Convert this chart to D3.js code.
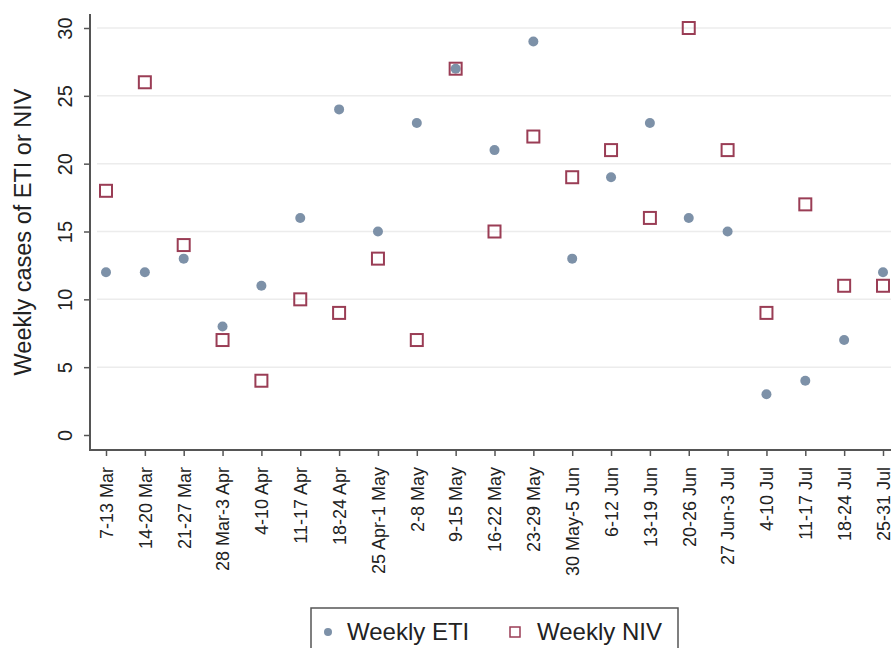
<html><head>
<script src="https://d3js.org/d3.v7.min.js"></script>
<style>
  body { margin: 0; background: #fff; }
  text { font-family: "Liberation Sans", Arial, sans-serif; fill: #222; }
</style>
</head>
<body>
<script>
  var weeks = ["7-13 Mar","14-20 Mar","21-27 Mar","28 Mar-3 Apr","4-10 Apr","11-17 Apr","18-24 Apr",
               "25 Apr-1 May","2-8 May","9-15 May","16-22 May","23-29 May","30 May-5 Jun","6-12 Jun",
               "13-19 Jun","20-26 Jun","27 Jun-3 Jul","4-10 Jul","11-17 Jul","18-24 Jul","25-31 Jul"];
  var eti = [12,12,13,8,11,16,24,15,23,27,21,29,13,19,23,16,15,3,4,7,12];
  var niv = [18,26,14,7,4,10,9,13,7,27,15,22,19,21,16,30,21,9,17,11,11];
  var yTicks = [0,5,10,15,20,25,30];

  let width = 891, height = 648;
  let svg = d3.select("body").append("svg").attr("width", width).attr("height", height);

  let left = 90, bottom = 450;
  let xScale = d3.scalePoint().domain(weeks).range([106, 883]);
  let yScale = d3.scaleLinear().domain([0, 30]).range([435, 28]);

  // gridlines
  yTicks.forEach(t => {
    if (t == 0) return;
    svg.append("line").attr("x1", 97).attr("x2", width).attr("y1", yScale(t)).attr("y2", yScale(t))
      .attr("stroke", "#ececec").attr("stroke-width", 1.5);
  });

  let yAxis = d3.axisLeft(yScale).tickValues(yTicks).tickSize(6);
  let gy = svg.append("g").attr("transform", "translate(" + left + ",0)").call(yAxis);
  gy.select(".domain").remove();
  gy.selectAll(".tick line").attr("stroke", "#555").attr("stroke-width", 1.5);
  gy.selectAll(".tick text").attr("font-size", 20).attr("fill", "#222")
    .attr("transform", "rotate(-90)").attr("x", 0).attr("y", -18).attr("dy", 0)
    .attr("text-anchor", "middle");
  svg.append("line").attr("x1", left).attr("x2", left).attr("y1", 14).attr("y2", bottom)
    .attr("stroke", "#555").attr("stroke-width", 2);

  let xAxis = d3.axisBottom(xScale).tickSize(6);
  let gx = svg.append("g").attr("transform", "translate(0," + bottom + ")").call(xAxis);
  gx.select(".domain").remove();
  gx.selectAll(".tick line").attr("stroke", "#555").attr("stroke-width", 1.5);
  gx.selectAll(".tick text").attr("font-size", 18).attr("fill", "#222")
    .attr("transform", "rotate(-90)").attr("x", -17).attr("y", 0).attr("dy", "0.35em")
    .attr("text-anchor", "end");
  svg.append("line").attr("x1", left - 1).attr("x2", width).attr("y1", bottom).attr("y2", bottom)
    .attr("stroke", "#555").attr("stroke-width", 2);

  svg.append("text").attr("transform", "translate(31,232) rotate(-90)")
    .attr("text-anchor", "middle").attr("font-size", 23.5).text("Weekly cases of ETI or NIV");

  // points
  eti.forEach((v, i) => {
    svg.append("circle").attr("cx", xScale(weeks[i])).attr("cy", yScale(v)).attr("r", 5)
      .attr("fill", "#7d91a8");
  });
  niv.forEach((v, i) => {
    svg.append("rect").attr("x", xScale(weeks[i]) - 6).attr("y", yScale(v) - 6)
      .attr("width", 12).attr("height", 12).attr("fill", "none")
      .attr("stroke", "#9a3d55").attr("stroke-width", 2);
  });

  // legend
  let lg = svg.append("g");
  lg.append("rect").attr("x", 311).attr("y", 608).attr("width", 367).attr("height", 60)
    .attr("fill", "#fff").attr("stroke", "#555").attr("stroke-width", 1.5);
  lg.append("circle").attr("cx", 328).attr("cy", 632).attr("r", 4).attr("fill", "#7d91a8");
  lg.append("text").attr("x", 347).attr("y", 640).attr("font-size", 24).text("Weekly ETI");
  lg.append("rect").attr("x", 510).attr("y", 627).attr("width", 10).attr("height", 10)
    .attr("fill", "none").attr("stroke", "#9a3d55").attr("stroke-width", 1.5);
  lg.append("text").attr("x", 537).attr("y", 640).attr("font-size", 24).text("Weekly NIV");
</script>
</body>
</html>
